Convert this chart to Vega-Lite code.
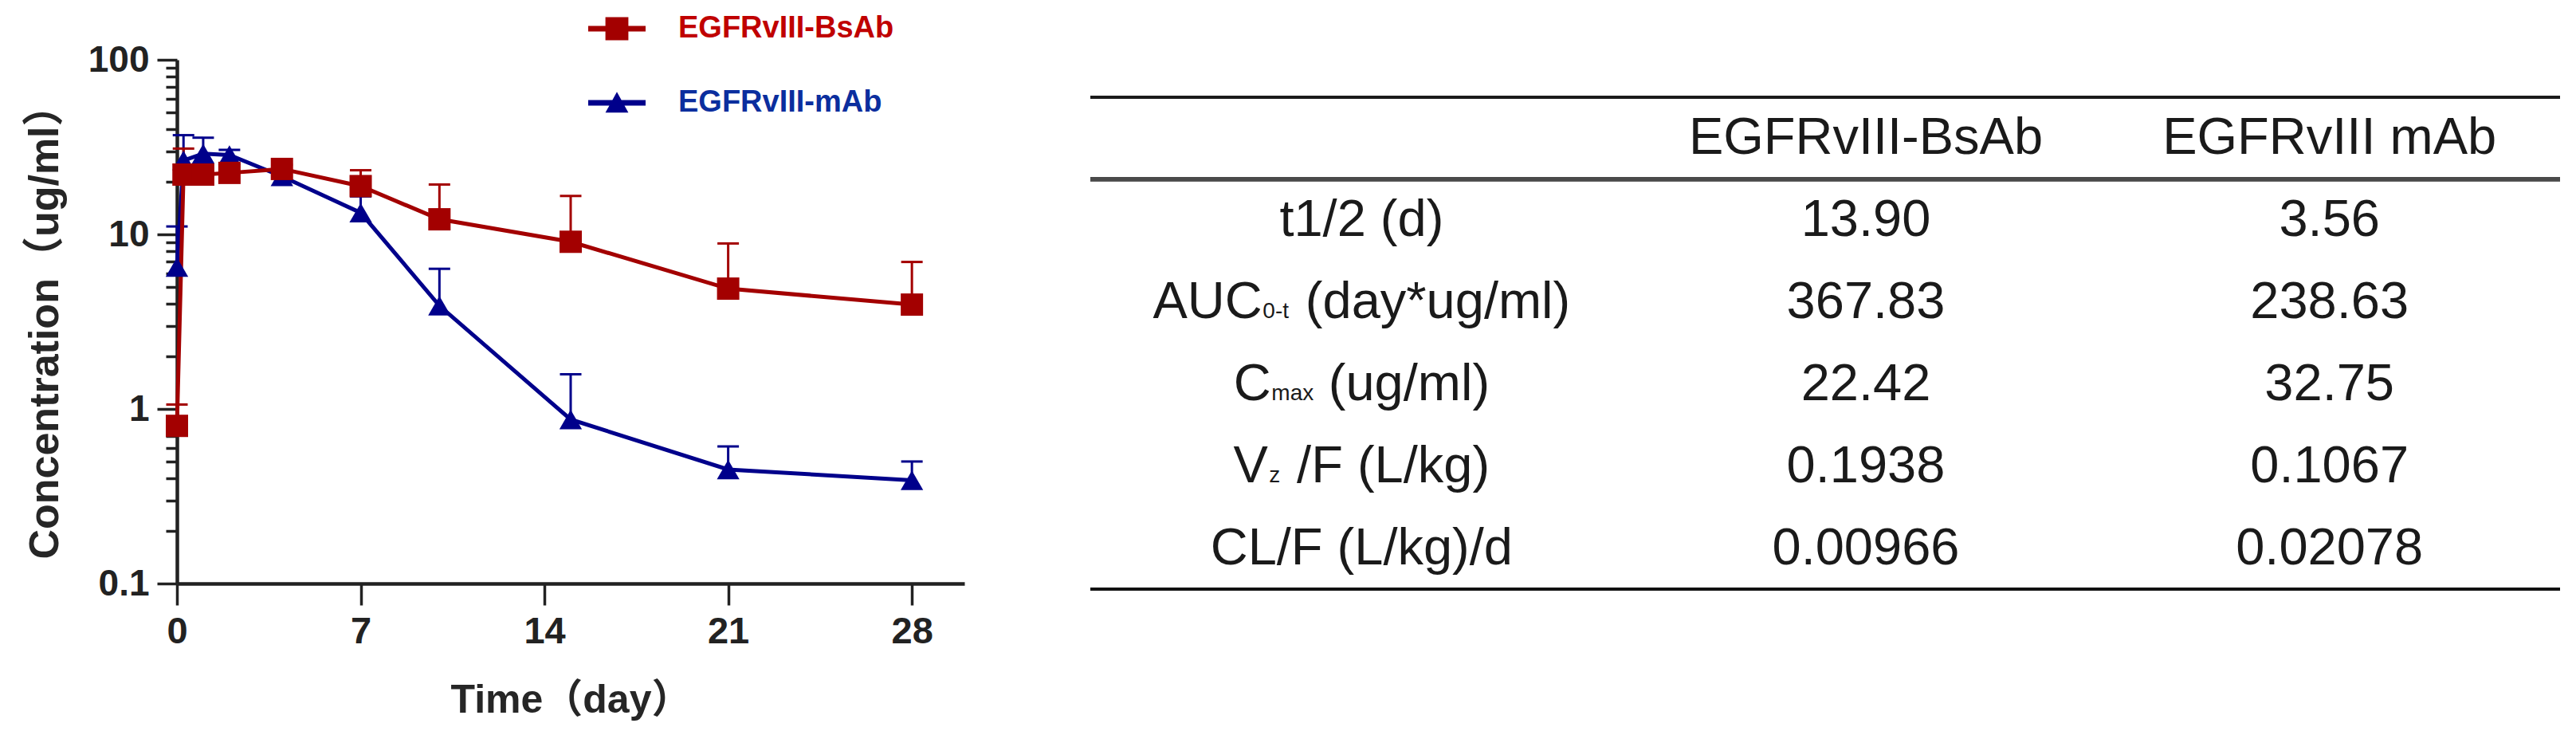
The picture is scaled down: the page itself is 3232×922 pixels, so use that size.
{
  "$schema": "https://vega.github.io/schema/vega-lite/v6.json",
  "background": "white",
  "padding": {"left": 30, "top": 0, "right": 5, "bottom": 5},
  "bounds": "flush",
  "spacing": 158,
  "config": {"view": {"stroke": null}, "font": "Liberation Sans"},
  "hconcat": [
    {
      "width": 988,
      "height": 657,
      "data": {
        "values": [
          {"series": "EGFRvIII-mAb", "t": 0, "mean": 6.5, "upper": 11.1},
          {"series": "EGFRvIII-mAb", "t": 0.25, "mean": 26.5, "upper": 37.0},
          {"series": "EGFRvIII-mAb", "t": 1, "mean": 29.0, "upper": 35.8},
          {"series": "EGFRvIII-mAb", "t": 2, "mean": 28.5, "upper": 30.5},
          {"series": "EGFRvIII-mAb", "t": 4, "mean": 21.5, "upper": 23.0},
          {"series": "EGFRvIII-mAb", "t": 7, "mean": 13.3, "upper": 16.5},
          {"series": "EGFRvIII-mAb", "t": 10, "mean": 3.9, "upper": 6.35},
          {"series": "EGFRvIII-mAb", "t": 15, "mean": 0.87, "upper": 1.58},
          {"series": "EGFRvIII-mAb", "t": 21, "mean": 0.45, "upper": 0.61},
          {"series": "EGFRvIII-mAb", "t": 28, "mean": 0.39, "upper": 0.5},
          {"series": "EGFRvIII-BsAb", "t": 0, "mean": 0.8, "upper": 1.06},
          {"series": "EGFRvIII-BsAb", "t": 0.25, "mean": 22.0, "upper": 31.0},
          {"series": "EGFRvIII-BsAb", "t": 1, "mean": 22.0, "upper": 24.0},
          {"series": "EGFRvIII-BsAb", "t": 2, "mean": 22.5, "upper": 24.5},
          {"series": "EGFRvIII-BsAb", "t": 4, "mean": 23.7, "upper": 25.0},
          {"series": "EGFRvIII-BsAb", "t": 7, "mean": 18.9, "upper": 23.3},
          {"series": "EGFRvIII-BsAb", "t": 10, "mean": 12.2, "upper": 19.3},
          {"series": "EGFRvIII-BsAb", "t": 15, "mean": 9.07, "upper": 16.6},
          {"series": "EGFRvIII-BsAb", "t": 21, "mean": 4.89, "upper": 8.87},
          {"series": "EGFRvIII-BsAb", "t": 28, "mean": 3.96, "upper": 6.95}
        ]
      },
      "encoding": {
        "x": {
          "field": "t", "type": "quantitative",
          "scale": {"domain": [0, 30], "nice": false, "zero": false},
          "axis": {
            "title": "Time（day）",
            "values": [0, 7, 14, 21, 28],
            "grid": false,
            "tickSize": 27, "tickWidth": 3.5, "tickColor": "#222",
            "domainColor": "#222", "domainWidth": 4.5,
            "labelFont": "Liberation Sans", "labelFontWeight": "bold", "labelFontSize": 47, "labelColor": "#222", "labelPadding": 10,
            "labelFlush": false,
            "titleFont": "Liberation Sans, Noto Sans CJK SC", "titleFontWeight": "bold", "titleFontSize": 50, "titleColor": "#262626", "titlePadding": 38
          }
        },
        "y": {
          "field": "mean", "type": "quantitative",
          "title": "Concentration（ug/ml）",
          "scale": {"type": "log", "domain": [0.1, 100], "nice": false},
          "axis": {
            "values": [0.1, 0.2, 0.3, 0.4, 0.5, 0.6, 0.7, 0.8, 0.9, 1, 2, 3, 4, 5, 6, 7, 8, 9, 10, 20, 30, 40, 50, 60, 70, 80, 90, 100],
            "labelExpr": "datum.value == 0.1 ? '0.1' : datum.value == 1 ? '1' : datum.value == 10 ? '10' : datum.value == 100 ? '100' : ''",
            "tickSize": {"condition": {"test": "datum.value == 0.1 || datum.value == 1 || datum.value == 10 || datum.value == 100", "value": 25}, "value": 14},
            "tickWidth": 3.5, "tickColor": "#222",
            "domainColor": "#222", "domainWidth": 4.5,
            "grid": false, "labelOverlap": false,
            "labelFont": "Liberation Sans", "labelFontWeight": "bold", "labelFontSize": 46, "labelColor": "#222", "labelPadding": 10,
            "titleFont": "Liberation Sans, Noto Sans CJK SC", "titleFontWeight": "bold", "titleFontSize": 52, "titleColor": "#262626", "titlePadding": 27
          }
        },
        "color": {
          "field": "series", "type": "nominal",
          "scale": {"domain": ["EGFRvIII-BsAb", "EGFRvIII-mAb"], "range": ["#A30000", "#00008B"]},
          "legend": {
            "orient": "none", "legendX": 516, "legendY": -75,
            "title": null, "padding": 0,
            "symbolSize": 5184, "symbolStrokeWidth": 0,
            "symbolFillColor": {"expr": "datum.value == 'EGFRvIII-BsAb' ? '#A30000' : '#00008B'"},
            "symbolType": {"expr": "datum.value == 'EGFRvIII-BsAb' ? 'M-1,-0.1L1,-0.1L1,0.1L-1,0.1Z M-0.4,-0.4L0.4,-0.4L0.4,0.4L-0.4,0.4Z' : 'M-1,-0.1L1,-0.1L1,0.1L-1,0.1Z M0,-0.38L0.4,0.34L-0.4,0.34Z'"},
            "labelOffset": 41, "rowPadding": 38, "labelLimit": 800,
            "labelFont": "Liberation Sans", "labelFontWeight": "bold", "labelFontSize": 38,
            "labelColor": {"expr": "datum.value == 'EGFRvIII-BsAb' ? '#C00000' : '#0B2E9E'"}
          }
        }
      },
      "layer": [
        {
          "mark": {"type": "rule", "strokeWidth": 3},
          "encoding": {"y2": {"field": "upper"}}
        },
        {
          "mark": {"type": "tick", "orient": "horizontal", "size": 27, "thickness": 3, "opacity": 1},
          "encoding": {"y": {"field": "upper", "type": "quantitative", "title": "Concentration（ug/ml）"}}
        },
        {
          "mark": {"type": "line", "strokeWidth": 5},
          "encoding": {}
        },
        {
          "transform": [{"filter": "datum.series == 'EGFRvIII-mAb'"}],
          "mark": {"type": "point", "shape": "triangle-up", "filled": true, "opacity": 1, "size": 800}
        },
        {
          "transform": [{"filter": "datum.series == 'EGFRvIII-BsAb'"}],
          "mark": {"type": "point", "shape": "square", "filled": true, "opacity": 1, "size": 784}
        }
      ]
    },
    {
      "width": 1844,
      "height": 664,
      "data": {
        "values": [
          {"row": "h", "param": "", "sub": "", "bsab": "EGFRvIII-BsAb", "mab": "EGFRvIII mAb"},
          {"row": "r1", "param": "t1/2 (d)", "sub": "", "bsab": "13.90", "mab": "3.56"},
          {"row": "r2", "param": "AUC\u00a0\u00a0\u00a0(day*ug/ml)", "sub": "0-t", "bsab": "367.83", "mab": "238.63"},
          {"row": "r3", "param": "C\u00a0\u00a0\u00a0\u00a0(ug/ml)", "sub": "max", "bsab": "22.42", "mab": "32.75"},
          {"row": "r4", "param": "V\u00a0\u00a0/F (L/kg)", "sub": "z", "bsab": "0.1938", "mab": "0.1067"},
          {"row": "r5", "param": "CL/F (L/kg)/d", "sub": "", "bsab": "0.00966", "mab": "0.02078"}
        ]
      },
      "encoding": {
        "y": {
          "field": "row", "type": "nominal",
          "scale": {"domain": ["h", "r1", "r2", "r3", "r4", "r5"], "paddingInner": 0, "paddingOuter": 0.2286, "align": 1},
          "axis": null
        }
      },
      "layer": [
        {
          "mark": {"type": "rule", "strokeWidth": 4, "color": "#1a1a1a"},
          "encoding": {"y": {"datum": "h", "type": "nominal", "bandPosition": 0}}
        },
        {
          "mark": {"type": "rule", "strokeWidth": 5, "color": "#4a4a4a"},
          "encoding": {"y": {"datum": "h", "type": "nominal", "bandPosition": 1}}
        },
        {
          "mark": {"type": "rule", "strokeWidth": 4, "color": "#111111"},
          "encoding": {"y": {"datum": "r5", "type": "nominal", "bandPosition": 1}}
        },
        {
          "mark": {"type": "text", "font": "Liberation Sans", "fontSize": 65, "color": "#1a1a1a", "baseline": "middle", "align": "center", "dx": 33},
          "encoding": {
            "x": {"datum": "label", "type": "nominal", "scale": {"domain": ["label", "bsab", "mab"], "paddingInner": 0, "paddingOuter": 0}, "axis": null},
            "text": {"field": "param"}
          }
        },
        {
          "transform": [{"filter": "datum.row == 'r2'"}],
          "mark": {"type": "text", "font": "Liberation Sans", "fontSize": 28, "color": "#1a1a1a", "baseline": "alphabetic", "align": "left", "dx": -91, "dy": 20},
          "encoding": {"x": {"datum": "label", "type": "nominal"}, "text": {"field": "sub"}}
        },
        {
          "transform": [{"filter": "datum.row == 'r3'"}],
          "mark": {"type": "text", "font": "Liberation Sans", "fontSize": 28, "color": "#1a1a1a", "baseline": "alphabetic", "align": "left", "dx": -80, "dy": 20},
          "encoding": {"x": {"datum": "label", "type": "nominal"}, "text": {"field": "sub"}}
        },
        {
          "transform": [{"filter": "datum.row == 'r4'"}],
          "mark": {"type": "text", "font": "Liberation Sans", "fontSize": 28, "color": "#1a1a1a", "baseline": "alphabetic", "align": "left", "dx": -83, "dy": 20},
          "encoding": {"x": {"datum": "label", "type": "nominal"}, "text": {"field": "sub"}}
        },
        {
          "mark": {"type": "text", "font": "Liberation Sans", "fontSize": 65, "color": "#1a1a1a", "baseline": "middle", "align": "center", "dx": 51},
          "encoding": {
            "x": {"datum": "bsab", "type": "nominal"},
            "text": {"field": "bsab"}
          }
        },
        {
          "mark": {"type": "text", "font": "Liberation Sans", "fontSize": 65, "color": "#1a1a1a", "baseline": "middle", "align": "center", "dx": 18},
          "encoding": {
            "x": {"datum": "mab", "type": "nominal"},
            "text": {"field": "mab"}
          }
        }
      ]
    }
  ]
}
